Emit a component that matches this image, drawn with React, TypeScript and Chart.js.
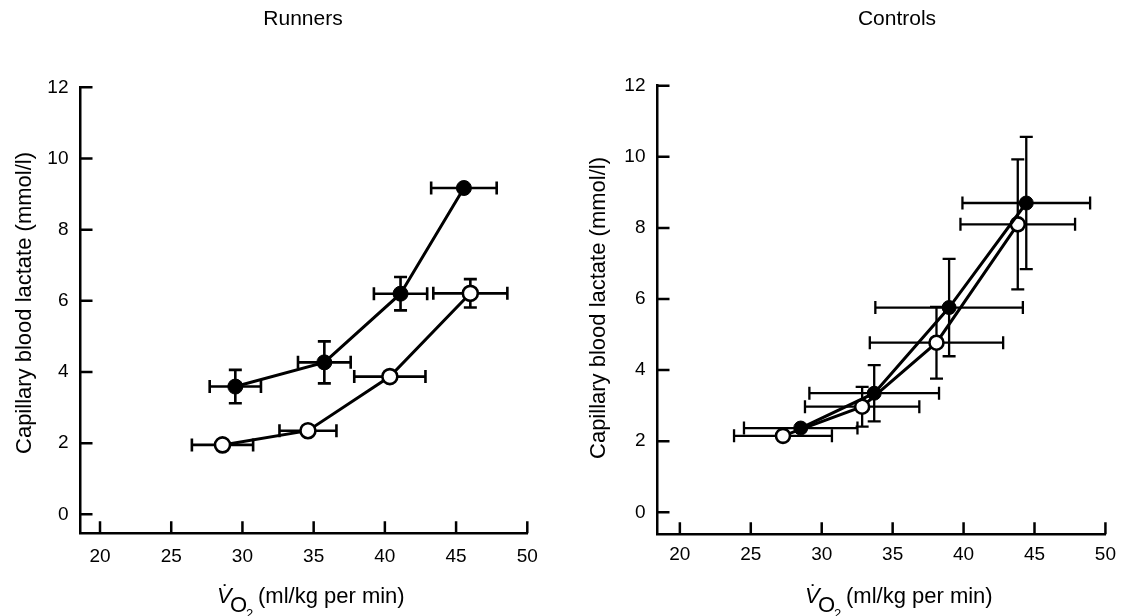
import React, { useEffect, useRef } from "react";
import { Chart, registerables } from "chart.js";

Chart.register(...registerables);

// ---- data ----
const xTickValues = [20, 25, 30, 35, 40, 45, 50];
const yTickValues = [0, 2, 4, 6, 8, 10, 12];

// Runners
const runnersFilledX = [29.5, 35.75, 41.1, 45.55];
const runnersFilledY = [3.59, 4.27, 6.2, 9.17];
const runnersFilledXErr = [1.8, 1.85, 1.87, 2.3];
const runnersFilledYErr = [0.47, 0.59, 0.47, 0];
const runnersOpenX = [28.6, 34.6, 40.35, 46.0];
const runnersOpenY = [1.95, 2.35, 3.87, 6.21];
const runnersOpenXErr = [2.15, 2.0, 2.5, 2.6];
const runnersOpenYErr = [0, 0, 0, 0.4];

// Controls
const controlsFilledX = [28.52, 33.7, 38.98, 44.42];
const controlsFilledY = [2.37, 3.35, 5.76, 8.7];
const controlsFilledXErr = [4.0, 4.57, 5.2, 4.5];
const controlsFilledYErr = [0, 0.79, 1.37, 1.86];
const controlsOpenX = [27.27, 32.85, 38.09, 43.82];
const controlsOpenY = [2.15, 2.97, 4.77, 8.1];
const controlsOpenXErr = [3.45, 4.03, 4.7, 4.04];
const controlsOpenYErr = [0, 0.56, 1.01, 1.83];

const panelTitles = ["Runners", "Controls"];
const yAxisTitle = "Capillary blood lactate (mmol/l)";
const xAxisTitleRest = "(ml/kg per min)";

const FONT = "'Liberation Sans', Arial, Helvetica, sans-serif";

type Series = { x: number[]; y: number[]; xe: number[]; ye: number[] };
type Panel = {
  title: string;
  left: number;
  width: number;
  area: { left: number; right: number; top: number; bottom: number };
  xMin: number;
  yMin: number;
  titleX: number;
  yTitleX: number;
  yTitleY: number;
  xTitleX: number;
  xPad: number;
  radius: number;
  errWidth: number;
  filled: Series;
  open: Series;
};

const H = 616;

const panels: Panel[] = [
  {
    title: panelTitles[0],
    left: 0,
    width: 560,
    area: { left: 80.5, right: 527.3, top: 87.3, bottom: 533.3 },
    xMin: 18.63,
    yMin: -0.534,
    titleX: 303,
    yTitleX: 30.7,
    yTitleY: 303,
    xTitleX: 217,
    xPad: 12,
    radius: 7.5,
    errWidth: 2.6,
    filled: { x: runnersFilledX, y: runnersFilledY, xe: runnersFilledXErr, ye: runnersFilledYErr },
    open: { x: runnersOpenX, y: runnersOpenY, xe: runnersOpenXErr, ye: runnersOpenYErr },
  },
  {
    title: panelTitles[1],
    left: 560,
    width: 565,
    area: { left: 97.5, right: 548.3, top: 85.7, bottom: 534.3 },
    xMin: 18.424,
    yMin: -0.619,
    titleX: 337,
    yTitleX: 45,
    yTitleY: 308,
    xTitleX: 245,
    xPad: 9,
    radius: 7,
    errWidth: 2.3,
    filled: { x: controlsFilledX, y: controlsFilledY, xe: controlsFilledXErr, ye: controlsFilledYErr },
    open: { x: controlsOpenX, y: controlsOpenY, xe: controlsOpenXErr, ye: controlsOpenYErr },
  },
];

function makeChart(canvas: HTMLCanvasElement, p: Panel) {
  const errorBars = {
    id: "errorBars",
    beforeDatasetsDraw(chart: any) {
      const ctx = chart.ctx;
      const xs = chart.scales.x;
      const ys = chart.scales.y;
      ctx.save();
      ctx.strokeStyle = "#000";
      ctx.lineWidth = p.errWidth;
      ctx.lineCap = "butt";
      chart.data.datasets.forEach((ds: any) => {
        ds.data.forEach((pt: any, i: number) => {
          const px = xs.getPixelForValue(pt.x);
          const py = ys.getPixelForValue(pt.y);
          const xe = ds.xErr[i];
          const ye = ds.yErr[i];
          const cap = 6.5;
          if (xe > 0) {
            const l = xs.getPixelForValue(pt.x - xe);
            const r = xs.getPixelForValue(pt.x + xe);
            ctx.beginPath();
            ctx.moveTo(l, py);
            ctx.lineTo(r, py);
            ctx.moveTo(l, py - cap);
            ctx.lineTo(l, py + cap);
            ctx.moveTo(r, py - cap);
            ctx.lineTo(r, py + cap);
            ctx.stroke();
          }
          if (ye > 0) {
            const t = ys.getPixelForValue(pt.y + ye);
            const b = ys.getPixelForValue(pt.y - ye);
            ctx.beginPath();
            ctx.moveTo(px, t);
            ctx.lineTo(px, b);
            ctx.moveTo(px - cap, t);
            ctx.lineTo(px + cap, t);
            ctx.moveTo(px - cap, b);
            ctx.lineTo(px + cap, b);
            ctx.stroke();
          }
        });
      });
      ctx.restore();
    },
  };

  const decor = {
    id: "decor",
    afterDraw(chart: any) {
      const ctx = chart.ctx;
      const xs = chart.scales.x;
      const ys = chart.scales.y;
      const a = chart.chartArea;
      ctx.save();
      // inward tick marks
      ctx.strokeStyle = "#000";
      ctx.lineWidth = 2.5;
      ctx.beginPath();
      ys.ticks.forEach((t: any) => {
        const py = ys.getPixelForValue(t.value);
        ctx.moveTo(a.left, py);
        ctx.lineTo(a.left + 12, py);
      });
      xs.ticks.forEach((t: any) => {
        const px = xs.getPixelForValue(t.value);
        ctx.moveTo(px, a.bottom);
        ctx.lineTo(px, a.bottom - 12);
      });
      ctx.stroke();

      ctx.fillStyle = "#000";
      // panel title
      ctx.font = `21px ${FONT}`;
      ctx.textAlign = "center";
      ctx.textBaseline = "alphabetic";
      ctx.fillText(p.title, p.titleX, 25);

      // y-axis title
      ctx.save();
      ctx.translate(p.yTitleX, p.yTitleY);
      ctx.rotate(-Math.PI / 2);
      ctx.font = `22px ${FONT}`;
      ctx.textAlign = "center";
      ctx.fillText(yAxisTitle, 0, 0);
      ctx.restore();

      // x-axis title: V-dot O2 (ml/kg per min)
      const bx = p.xTitleX;
      const base = 603;
      ctx.textAlign = "left";
      ctx.font = `italic 22px ${FONT}`;
      ctx.fillText("V", bx, base);
      ctx.font = `22px ${FONT}`;
      ctx.fillText("\u02D9", bx + 5, base - 3);
      ctx.fillText("O", bx + 13, base + 9);
      ctx.font = `13px ${FONT}`;
      ctx.fillText("2", bx + 29, base + 15);
      ctx.font = `22px ${FONT}`;
      ctx.fillText(xAxisTitleRest, bx + 41, base);
      ctx.restore();
    },
  };

  const toPoints = (s: Series) => s.x.map((x, i) => ({ x, y: s.y[i] }));

  return new Chart(canvas, {
    type: "scatter",
    data: {
      datasets: [
        {
          label: "filled",
          data: toPoints(p.filled),
          xErr: p.filled.xe,
          yErr: p.filled.ye,
          showLine: true,
          borderColor: "#000",
          borderWidth: 3,
          pointRadius: p.radius,
          pointBackgroundColor: "#000",
          pointBorderColor: "#000",
          pointBorderWidth: 1,
          order: 1,
        } as any,
        {
          label: "open",
          data: toPoints(p.open),
          xErr: p.open.xe,
          yErr: p.open.ye,
          showLine: true,
          borderColor: "#000",
          borderWidth: 3,
          pointRadius: p.radius,
          pointBackgroundColor: "#fff",
          pointBorderColor: "#000",
          pointBorderWidth: 2.6,
          order: 2,
        } as any,
      ],
    },
    options: {
      responsive: false,
      animation: false,
      devicePixelRatio: 1,
      layout: {
        padding: { left: 0, top: p.area.top, right: p.width - p.area.right, bottom: 0 },
      },
      plugins: {
        legend: { display: false },
        tooltip: { enabled: false },
        title: { display: false },
      },
      scales: {
        x: {
          type: "linear",
          min: p.xMin,
          max: 50,
          afterBuildTicks: (s: any) => {
            s.ticks = xTickValues.map((v) => ({ value: v }));
          },
          afterFit: (s: any) => {
            s.height = H - p.area.bottom;
          },
          grid: { display: false, drawTicks: false },
          border: { display: true, color: "#000", width: 2.5 },
          ticks: {
            color: "#000",
            font: { family: FONT, size: 19 },
            padding: p.xPad,
            maxRotation: 0,
            autoSkip: false,
          },
        },
        y: {
          type: "linear",
          min: p.yMin,
          max: 12,
          afterBuildTicks: (s: any) => {
            s.ticks = yTickValues.map((v) => ({ value: v }));
          },
          afterFit: (s: any) => {
            s.width = p.area.left;
          },
          grid: { display: false, drawTicks: false },
          border: { display: true, color: "#000", width: 2.5 },
          ticks: {
            color: "#000",
            font: { family: FONT, size: 19 },
            padding: 12,
            autoSkip: false,
          },
        },
      },
    } as any,
    plugins: [errorBars, decor],
  });
}

function PanelCanvas({ p }: { p: Panel }) {
  const ref = useRef<HTMLCanvasElement | null>(null);
  useEffect(() => {
    if (!ref.current) return;
    const chart = makeChart(ref.current, p);
    return () => chart.destroy();
  }, [p]);
  return (
    <canvas
      ref={ref}
      width={p.width}
      height={H}
      style={{ position: "absolute", left: p.left, top: 0, width: p.width, height: H }}
    />
  );
}

export default function App() {
  return (
    <div
      style={{
        position: "fixed",
        left: 0,
        top: 0,
        width: 1125,
        height: H,
        background: "#fff",
        overflow: "hidden",
      }}
    >
      {panels.map((p) => (
        <PanelCanvas key={p.title} p={p} />
      ))}
    </div>
  );
}
